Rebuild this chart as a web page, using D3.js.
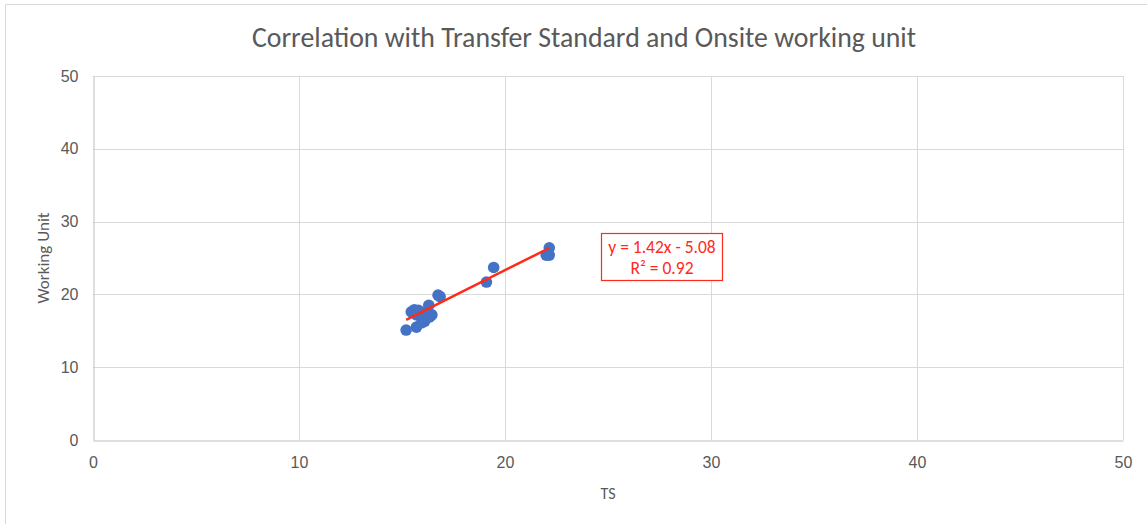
<!DOCTYPE html>
<html>
<head>
<meta charset="utf-8">
<script src="https://cdn.jsdelivr.net/npm/d3@7.9.0/dist/d3.min.js"></script>
<style>
  body { margin: 0; background: #fff; }
  svg { display: block; font-family: Calibri, Carlito, "Open Sans", sans-serif; }
</style>
</head>
<body>
<svg id="chart"></svg>
<script>
// Data
const tsValues = [15.2, 15.7, 15.45, 15.6, 15.8, 15.7, 16.0, 16.1, 15.95, 16.2, 16.4, 16.2, 16.3, 16.0, 16.45, 16.35, 16.75, 16.85, 19.1, 19.45, 22.0, 22.15, 22.15];
const wuValues = [15.1, 15.5, 17.6, 17.9, 17.8, 17.2, 17.0, 16.3, 16.1, 16.8, 17.1, 17.6, 18.5, 17.4, 17.2, 16.9, 19.9, 19.7, 21.7, 23.7, 25.4, 25.4, 26.4];
const trendSlope = 1.42;
const trendIntercept = -5.08;
const trendLabels = ['y = 1.42x - 5.08', 'R² = 0.92'];
const xTicks = [0, 10, 20, 30, 40, 50];
const yTicks = [0, 10, 20, 30, 40, 50];

const points = tsValues.map((v, i) => ({ ts: v, wu: wuValues[i] }));

const width = 1147;
const height = 524;
const marginTop = 76;
const marginRight = 24;
const marginBottom = 84;
const marginLeft = 93;

const svg = d3.select('#chart')
  .attr('width', width)
  .attr('height', height)
  .attr('viewBox', [0, 0, width, height]);

// Outer chart frame
svg.append('path')
  .attr('d', `M5.5,${height} V4.5 H${width}`)
  .attr('fill', 'none')
  .attr('stroke', '#d9d9d9');

const x = d3.scaleLinear().domain([0, 50]).range([marginLeft, width - marginRight]);
const y = d3.scaleLinear().domain([0, 50]).range([height - marginBottom, marginTop]);

// Grid
svg.append('g')
  .selectAll('line.v')
  .data(xTicks.slice(1))
  .join('line')
  .attr('x1', (d) => Math.round(x(d)) + 0.5)
  .attr('x2', (d) => Math.round(x(d)) + 0.5)
  .attr('y1', y(0))
  .attr('y2', y(50))
  .attr('stroke', '#d9d9d9');

svg.append('g')
  .selectAll('line.h')
  .data(yTicks.slice(1))
  .join('line')
  .attr('x1', x(0))
  .attr('x2', x(50))
  .attr('y1', (d) => Math.round(y(d)) + 0.5)
  .attr('y2', (d) => Math.round(y(d)) + 0.5)
  .attr('stroke', '#d9d9d9');

// Axes
svg.append('g')
  .attr('transform', `translate(0,${Math.round(y(0)) + 0.5})`)
  .call(d3.axisBottom(x).tickValues(xTicks).tickSize(0).tickPadding(16))
  .call((g) => g.select('.domain').attr('stroke', '#bfbfbf'))
  .call((g) => g.selectAll('text').attr('fill', '#595959').attr('font-size', 16));

svg.append('g')
  .attr('transform', `translate(${Math.round(x(0)) + 0.5},0)`)
  .call(d3.axisLeft(y).tickValues(yTicks).tickSize(0).tickPadding(15))
  .call((g) => g.select('.domain').attr('stroke', '#bfbfbf'))
  .call((g) => g.selectAll('text').attr('fill', '#595959').attr('font-size', 16));

// Points
svg.append('g')
  .selectAll('circle')
  .data(points)
  .join('circle')
  .attr('cx', (d) => x(d.ts))
  .attr('cy', (d) => y(d.wu))
  .attr('r', 5.8)
  .attr('fill', '#4472c4');

// Linear trend line
const [tsMin, tsMax] = d3.extent(tsValues);
svg.append('line')
  .attr('x1', x(tsMin))
  .attr('y1', y(trendSlope * tsMin + trendIntercept))
  .attr('x2', x(tsMax))
  .attr('y2', y(trendSlope * tsMax + trendIntercept))
  .attr('stroke', '#ff2a1a')
  .attr('stroke-width', 2.5);

// Trend label box
const box = svg.append('g').attr('transform', 'translate(601.5,233.5)');
box.append('rect')
  .attr('width', 121)
  .attr('height', 47)
  .attr('fill', '#fff')
  .attr('stroke', '#ff2a1a')
  .attr('stroke-width', 1.2);
box.selectAll('text')
  .data(trendLabels)
  .join('text')
  .attr('x', 60.5)
  .attr('y', (d, i) => 19 + i * 21)
  .attr('text-anchor', 'middle')
  .attr('fill', '#ff2a1a')
  .attr('font-size', 17.5)
  .text((d) => d);

// Titles
svg.append('text')
  .attr('x', 584)
  .attr('y', 47)
  .attr('text-anchor', 'middle')
  .attr('fill', '#595959')
  .attr('font-size', 27.8)
  .text('Correlation with Transfer Standard and Onsite working unit');

svg.append('text')
  .attr('x', x(25))
  .attr('y', 499)
  .attr('text-anchor', 'middle')
  .attr('fill', '#595959')
  .attr('font-size', 16)
  .text('TS');

svg.append('text')
  .attr('transform', `translate(49,${y(25)}) rotate(-90)`)
  .attr('text-anchor', 'middle')
  .attr('fill', '#595959')
  .attr('font-size', 17)
  .text('Working Unit');
</script>
</body>
</html>
